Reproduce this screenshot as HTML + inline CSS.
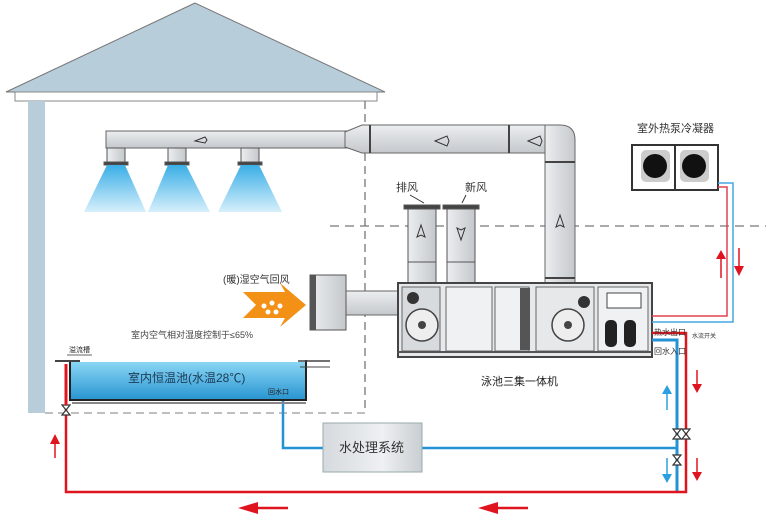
<!DOCTYPE html>
<html><head><meta charset="utf-8"><style>
html,body{margin:0;padding:0;background:#fff;}
svg{display:block;font-family:"Liberation Sans","Noto Sans CJK SC",sans-serif;}
</style></head><body>
<svg width="772" height="521" viewBox="0 0 772 521" xmlns="http://www.w3.org/2000/svg">
<defs>
<linearGradient id="dh" x1="0" y1="0" x2="0" y2="1"><stop offset="0" stop-color="#eceef0"/><stop offset="0.5" stop-color="#d8dbde"/><stop offset="1" stop-color="#c4c8cc"/></linearGradient>
<linearGradient id="dv" x1="0" y1="0" x2="1" y2="0"><stop offset="0" stop-color="#eceef0"/><stop offset="0.5" stop-color="#d8dbde"/><stop offset="1" stop-color="#c4c8cc"/></linearGradient>
<linearGradient id="spray" x1="0" y1="0" x2="0" y2="1"><stop offset="0" stop-color="#3aaee6"/><stop offset="1" stop-color="#d6effb"/></linearGradient>
<linearGradient id="water" x1="0" y1="0" x2="0" y2="1"><stop offset="0" stop-color="#8ad6f4"/><stop offset="1" stop-color="#2a96d2"/></linearGradient>
<linearGradient id="box" x1="0" y1="0" x2="1" y2="0"><stop offset="0" stop-color="#d5dade"/><stop offset="0.6" stop-color="#eef0f2"/><stop offset="1" stop-color="#c9ced2"/></linearGradient>
</defs>
<polygon points="195,3 6,92 385,92" fill="#b7cdd9" stroke="#777" stroke-width="1"/>
<rect x="15" y="92" width="362" height="9" fill="#fff" stroke="#888" stroke-width="1"/>
<rect x="28" y="101" width="17" height="312" fill="#b7cdd9"/>
<line x1="365" y1="101" x2="365" y2="413" stroke="#777" stroke-width="1.3" stroke-dasharray="8,5"/>
<line x1="45" y1="413" x2="365" y2="413" stroke="#999" stroke-width="1.3" stroke-dasharray="8,5"/>
<line x1="330" y1="226" x2="766" y2="226" stroke="#777" stroke-width="1.3" stroke-dasharray="9,6"/>
<rect x="106" y="131" width="244" height="17" fill="url(#dh)" stroke="#666" stroke-width="1"/>
<polygon points="345,132 362,125 375,125 375,153 362,153 345,147" fill="url(#dh)" stroke="#666"/>
<rect x="370" y="125" width="190" height="28" fill="url(#dh)" stroke="#666"/>
<path d="M545,125 L560,125 Q575,125 575,140 L575,283 L545,283 Z" fill="url(#dv)" stroke="#666"/>
<line x1="370" y1="125" x2="370" y2="153" stroke="#444" stroke-width="2"/>
<line x1="509" y1="125" x2="509" y2="153" stroke="#444" stroke-width="2"/>
<line x1="545" y1="162" x2="575" y2="162" stroke="#444" stroke-width="2"/>
<line x1="545" y1="278" x2="575" y2="278" stroke="#444" stroke-width="2"/>
<path d="M195,141 l10,-4 l2,3 l-2,3 z" fill="none" stroke="#333"/>
<path d="M435,141 l12,-5 l2,5 l-2,5 z" fill="none" stroke="#333"/>
<path d="M528,141 l12,-5 l2,5 l-2,5 z" fill="none" stroke="#333"/>
<path d="M560,215 l-4,12 l4,-2 l4,2 z" fill="none" stroke="#333"/>
<g stroke="#555" stroke-width="1">
<rect x="107" y="148" width="18" height="15" fill="url(#dv)"/><rect x="104" y="162" width="24" height="3" fill="#444"/>
<rect x="168" y="148" width="18" height="15" fill="url(#dv)"/><rect x="165" y="162" width="24" height="3" fill="#444"/>
<rect x="241" y="148" width="18" height="15" fill="url(#dv)"/><rect x="238" y="162" width="24" height="3" fill="#444"/>
</g>
<polygon points="107,165 125,165 146,212 84,212" fill="url(#spray)"/>
<polygon points="168,165 186,165 210,212 148,212" fill="url(#spray)"/>
<polygon points="241,165 259,165 282,212 218,212" fill="url(#spray)"/>
<g stroke="#555" stroke-width="1">
<rect x="408" y="208" width="28" height="75" fill="url(#dv)"/><rect x="404" y="205" width="36" height="4" fill="#444"/>
<rect x="447" y="208" width="28" height="75" fill="url(#dv)"/><rect x="443" y="205" width="36" height="4" fill="#444"/>
<line x1="408" y1="262" x2="436" y2="262"/><line x1="447" y1="262" x2="475" y2="262"/>
</g>
<path d="M421,225 l-4,12 l4,-2 l4,2 z" fill="none" stroke="#333"/>
<path d="M461,240 l-4,-12 l4,2 l4,-2 z" fill="none" stroke="#333"/>
<text x="396" y="191" font-size="11" fill="#333">排风</text>
<text x="465" y="191" font-size="11" fill="#333">新风</text>
<line x1="410" y1="195" x2="424" y2="203" stroke="#333"/><line x1="466" y1="195" x2="462" y2="203" stroke="#333"/>
<rect x="345" y="291" width="56" height="24" fill="url(#dh)" stroke="#666"/>
<rect x="310" y="275" width="36" height="55" fill="url(#dv)" stroke="#555"/>
<rect x="310" y="275" width="6" height="55" fill="#555"/>
<polygon points="243,292 285,292 280,283 306,305 280,327 285,318 243,318 256,305" fill="#f39016"/>
<g fill="#fff"><circle cx="264" cy="306" r="2.5"/><circle cx="272" cy="303" r="2.5"/><circle cx="280" cy="306" r="2.5"/><circle cx="268" cy="312" r="2.5"/><circle cx="276" cy="312" r="2.5"/></g>
<text x="223" y="283" font-size="10" fill="#333">(暖)湿空气回风</text>
<text x="131" y="338" font-size="9" fill="#444">室内空气相对湿度控制于≤65%</text>
<rect x="398" y="283" width="254" height="74" fill="#e6e8ea" stroke="#444" stroke-width="2"/>
<rect x="402" y="287" width="38" height="64" fill="#d8dbde" stroke="#666"/>
<circle cx="422" cy="325" r="16" fill="#eee" stroke="#444" stroke-width="1.5"/><circle cx="422" cy="325" r="4" fill="#444"/>
<rect x="446" y="287" width="46" height="64" fill="#f0f1f2" stroke="#666"/>
<rect x="495" y="287" width="34" height="64" fill="#f0f1f2" stroke="#666"/>
<rect x="520" y="288" width="10" height="62" fill="#555"/>
<rect x="536" y="287" width="58" height="64" fill="#e6e8ea" stroke="#666"/>
<circle cx="568" cy="325" r="16" fill="#eee" stroke="#444" stroke-width="1.5"/><circle cx="568" cy="325" r="4" fill="#444"/>
<circle cx="584" cy="302" r="6" fill="#333"/><circle cx="413" cy="298" r="6" fill="#333"/>
<rect x="598" y="287" width="50" height="64" fill="#f0f1f2" stroke="#666"/>
<rect x="607" y="293" width="34" height="15" fill="#fff" stroke="#444"/>
<rect x="605" y="320" width="12" height="27" rx="5" fill="#222"/><rect x="624" y="320" width="12" height="27" rx="5" fill="#222"/>
<line x1="398" y1="352" x2="652" y2="352" stroke="#555" stroke-width="2"/>
<text x="481" y="385" font-size="11" fill="#222">泳池三集一体机</text>
<rect x="632" y="145" width="86" height="45" fill="#fff" stroke="#333" stroke-width="2"/>
<line x1="675" y1="145" x2="675" y2="190" stroke="#333" stroke-width="2"/>
<rect x="641" y="150" width="29" height="32" rx="5" fill="#ccc"/><circle cx="655" cy="166" r="12" fill="#111"/>
<rect x="680" y="150" width="29" height="32" rx="5" fill="#ccc"/><circle cx="694" cy="166" r="12" fill="#111"/>
<text x="637" y="132" font-size="11" fill="#333">室外热泵冷凝器</text>
<polyline points="718,183 733,183 733,322 652,322" fill="none" stroke="#44a8e0" stroke-width="1.5"/>
<polyline points="718,187 727,187 727,316 652,316" fill="none" stroke="#e4414d" stroke-width="1.5"/>
<g fill="#e0141e" stroke="#e0141e" stroke-width="1.5">
<line x1="721" y1="278" x2="721" y2="257"/><polygon points="716,259 726,259 721,250" stroke="none"/>
<line x1="739" y1="248" x2="739" y2="268"/><polygon points="734,266 744,266 739,276" stroke="none"/>
</g>
<polyline points="652,340 677,340 677,492" fill="none" stroke="#2592d6" stroke-width="3"/>
<polyline points="652,333 686,333 686,492 66,492 66,366" fill="none" stroke="#e0141e" stroke-width="2.5"/>
<polyline points="283,398 283,448 323,448" fill="none" stroke="#2592d6" stroke-width="2.5"/>
<line x1="422" y1="448" x2="677" y2="448" stroke="#2592d6" stroke-width="2.5"/>
<text x="654" y="335" font-size="8" fill="#333">热水出口</text>
<text x="654" y="354" font-size="8" fill="#333">回水入口</text>
<text x="692" y="338" font-size="6" fill="#333">水流开关</text>
<g fill="#fff" stroke="#333" stroke-width="1.2">
<polygon points="673,429 681,429 673,439 681,439"/><polygon points="682,429 690,429 682,439 690,439"/>
<polygon points="673,455 681,455 673,465 681,465"/><polygon points="62,405 70,405 62,415 70,415"/>
</g>
<g fill="#2aa0e0" stroke="#2aa0e0" stroke-width="1.5">
<line x1="667" y1="410" x2="667" y2="392"/><polygon points="662,394 672,394 667,385" stroke="none"/>
<line x1="667" y1="458" x2="667" y2="476"/><polygon points="662,474 672,474 667,483" stroke="none"/>
</g>
<g fill="#e0141e" stroke="#e0141e" stroke-width="1.5">
<line x1="697" y1="370" x2="697" y2="386"/><polygon points="692,384 702,384 697,393" stroke="none"/>
<line x1="697" y1="458" x2="697" y2="474"/><polygon points="692,472 702,472 697,481" stroke="none"/>
<line x1="55" y1="458" x2="55" y2="442"/><polygon points="50,444 60,444 55,434" stroke="none"/>
</g>
<g fill="#e0141e" stroke="#e0141e" stroke-width="2.5">
<line x1="255" y1="508" x2="288" y2="508"/><polygon points="258,502 258,514 238,508" stroke="none"/>
<line x1="495" y1="508" x2="528" y2="508"/><polygon points="498,502 498,514 478,508" stroke="none"/>
</g>
<rect x="70" y="362" width="236" height="37" fill="url(#water)"/>
<polyline points="70,360 70,400 306,400 306,360" fill="none" stroke="#222" stroke-width="2"/>
<line x1="66" y1="364" x2="66" y2="405" stroke="#e0141e" stroke-width="3"/>
<line x1="55" y1="361" x2="80" y2="361" stroke="#444" stroke-width="2"/>
<line x1="298" y1="361" x2="330" y2="361" stroke="#444" stroke-width="1.5"/>
<line x1="300" y1="367" x2="330" y2="367" stroke="#444" stroke-width="1"/>
<line x1="72" y1="403" x2="306" y2="403" stroke="#888" stroke-width="2"/>
<text x="128" y="382" font-size="12" fill="#1c3a55">室内恒温池(水温28℃)</text>
<text x="268" y="394" font-size="7" fill="#222">回水口</text>
<text x="69" y="352" font-size="7" fill="#222">溢流槽</text>
<line x1="67" y1="355" x2="92" y2="355" stroke="#333" stroke-width="0.7"/>
<rect x="323" y="423" width="99" height="49" fill="url(#box)" stroke="#9aa" stroke-width="1"/>
<text x="339" y="452" font-size="13" fill="#333">水处理系统</text>
</svg>
</body></html>
